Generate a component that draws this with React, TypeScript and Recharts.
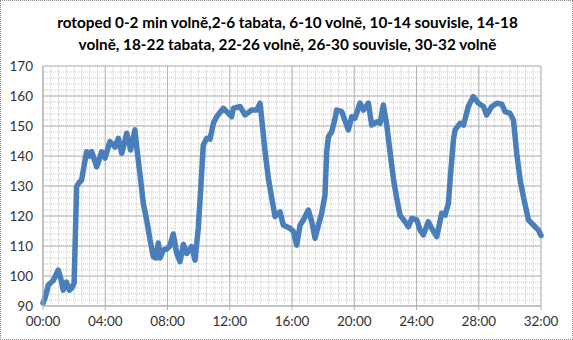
import React from "react";
import { LineChart, Line, XAxis, YAxis, ReferenceLine } from "recharts";

const titleLines = [
  "rotoped 0-2 min volně,2-6 tabata, 6-10 volně, 10-14 souvisle, 14-18",
  "volně, 18-22 tabata, 22-26 volně, 26-30 souvisle, 30-32 volně",
];

const minutes = [
  0.0, 0.15, 0.34, 0.66, 0.98, 1.15, 1.3, 1.5, 1.7, 1.85, 2.0, 2.16, 2.3, 2.48, 2.8, 3.0, 3.13, 3.45, 3.77, 3.98,
  4.3, 4.63, 4.84, 5.06, 5.38, 5.63, 5.91, 6.02, 6.23, 6.45, 6.66, 6.88, 7.09, 7.25, 7.41, 7.52, 7.73, 7.95, 8.15, 8.37,
  8.59, 8.8, 9.02, 9.23, 9.45, 9.55, 9.77, 9.98, 10.15, 10.3, 10.52, 10.73, 10.95, 11.16, 11.59, 11.8, 12.12, 12.23, 12.66, 12.98,
  13.41, 13.73, 13.95, 14.05, 14.27, 14.48, 14.7, 14.91, 15.23, 15.44, 15.87, 16.09, 16.3, 16.52, 16.73, 17.05, 17.27, 17.48, 17.7, 17.91,
  18.12, 18.23, 18.34, 18.55, 18.77, 18.87, 19.2, 19.41, 19.62, 19.84, 20.05, 20.37, 20.59, 20.91, 21.12, 21.45, 21.66, 21.87, 22.09, 22.3,
  22.51, 22.73, 22.94, 23.26, 23.48, 23.7, 24.02, 24.23, 24.44, 24.76, 24.98, 25.3, 25.62, 25.84, 26.05, 26.16, 26.37, 26.48, 26.8, 27.02,
  27.33, 27.65, 27.98, 28.3, 28.51, 28.84, 29.16, 29.48, 29.69, 30.01, 30.23, 30.44, 30.66, 30.87, 31.19, 31.51, 31.83, 32.0,
];

const heartRate = [
  91, 93, 97, 98.5, 102, 99, 95.3, 98, 95.3, 96, 97.7, 129.8, 131, 132, 141.4, 140, 141.5, 136.4, 141.4, 139.3,
  144.8, 143, 145.9, 140.9, 147.6, 142, 148.7, 143, 134, 124, 118.7, 112, 106.4, 106, 111, 106, 108.7, 109, 110, 114,
  107.6, 104.8, 110.5, 107.5, 109, 109.8, 105.3, 116, 130.3, 143.7, 145.9, 145.6, 150.9, 153.1, 155.9, 154.8, 153.1, 155.9, 156.5, 153.7,
  155.3, 155.3, 157.6, 152.6, 141.4, 132.6, 125.9, 119.8, 121.4, 117, 115.9, 114.8, 110.3, 117, 118.7, 122, 118.1, 112.6, 117, 120.9,
  127, 141.4, 146.4, 148.1, 152.6, 155.3, 154.8, 151.7, 148.7, 153.1, 152.6, 157.6, 155.3, 157.6, 150.3, 151.4, 150.9, 157, 150.3, 141.4,
  132.6, 125.9, 120.3, 118.1, 116.4, 119.2, 118.7, 115.3, 113.7, 118.1, 115.9, 113.1, 120.9, 120.3, 124.2, 132, 145.3, 148.7, 150.9, 150.3,
  156.5, 159.8, 157.6, 156.5, 153.7, 156.5, 157.6, 157.3, 154.8, 154.2, 152, 140.9, 132, 126.4, 118.7, 117, 115.3, 113.5,
];

const xTicks = [0, 4, 8, 12, 16, 20, 24, 28, 32];
const yTicks = [90, 100, 110, 120, 130, 140, 150, 160, 170];
const xMinor = Array.from({ length: 65 }, (_, i) => i * 0.5);
const yMinor = Array.from({ length: 41 }, (_, i) => 90 + i * 2);

const data = minutes.map((m, i) => ({ m, hr: heartRate[i] }));

const fmt = (v: number) => `${String(v).padStart(2, "0")}:00`;

const FONT = "Lato, 'Open Sans', sans-serif";

export default function App() {
  return (
    <div
      style={{
        position: "absolute",
        left: 0,
        top: 0,
        width: 573,
        height: 340,
        background: "#fff",
        border: "1px dotted #8a8a8a",
        boxSizing: "border-box",
        fontFamily: FONT,
      }}
    >
      <div
        style={{
          position: "absolute",
          left: 0,
          top: 10,
          width: 573,
          textAlign: "center",
          fontWeight: 700,
          fontSize: 15.3,
          lineHeight: "22px",
          color: "#000",
          whiteSpace: "nowrap",
        }}
      >
        {titleLines.map((t) => (
          <div key={t}>{t}</div>
        ))}
      </div>
      <div style={{ position: "absolute", left: -1, top: -1 }}>
        <LineChart width={573} height={340} data={data} margin={{ top: 66, right: 32, bottom: 4, left: 0 }}>
          {xMinor.map((v) => (
            <ReferenceLine key={"xm" + v} x={v} stroke="#c8c8c8" strokeDasharray="1 1" ifOverflow="visible" />
          ))}
          {yMinor.map((v) => (
            <ReferenceLine key={"ym" + v} y={v} stroke="#c8c8c8" strokeDasharray="1 1" ifOverflow="visible" />
          ))}
          {xTicks.map((v) => (
            <ReferenceLine key={"xM" + v} x={v} stroke="#b4b4b4" ifOverflow="visible" />
          ))}
          {yTicks.map((v) => (
            <ReferenceLine key={"yM" + v} y={v} stroke="#b4b4b4" ifOverflow="visible" />
          ))}
          <XAxis
            dataKey="m"
            type="number"
            domain={[0, 32]}
            ticks={xTicks}
            tickFormatter={fmt}
            height={30}
            tickSize={4}
            tickMargin={6}
            axisLine={{ stroke: "#b4b4b4" }}
            tickLine={{ stroke: "#b4b4b4" }}
            tick={{ fill: "#333", fontSize: 13.5, fontFamily: FONT }}
            interval={0}
          />
          <YAxis
            type="number"
            domain={[90, 170]}
            ticks={yTicks}
            width={43}
            tickLine={false}
            tickSize={0}
            tickMargin={10}
            axisLine={{ stroke: "#b4b4b4" }}
            tick={{ fill: "#333", fontSize: 13.5, fontFamily: FONT }}
            interval={0}
          />
          <Line
            dataKey="hr"
            type="linear"
            stroke="#4a7ebb"
            strokeWidth={5.5}
            dot={false}
            strokeLinejoin="round"
            strokeLinecap="round"
            isAnimationActive={false}
          />
        </LineChart>
      </div>
    </div>
  );
}
